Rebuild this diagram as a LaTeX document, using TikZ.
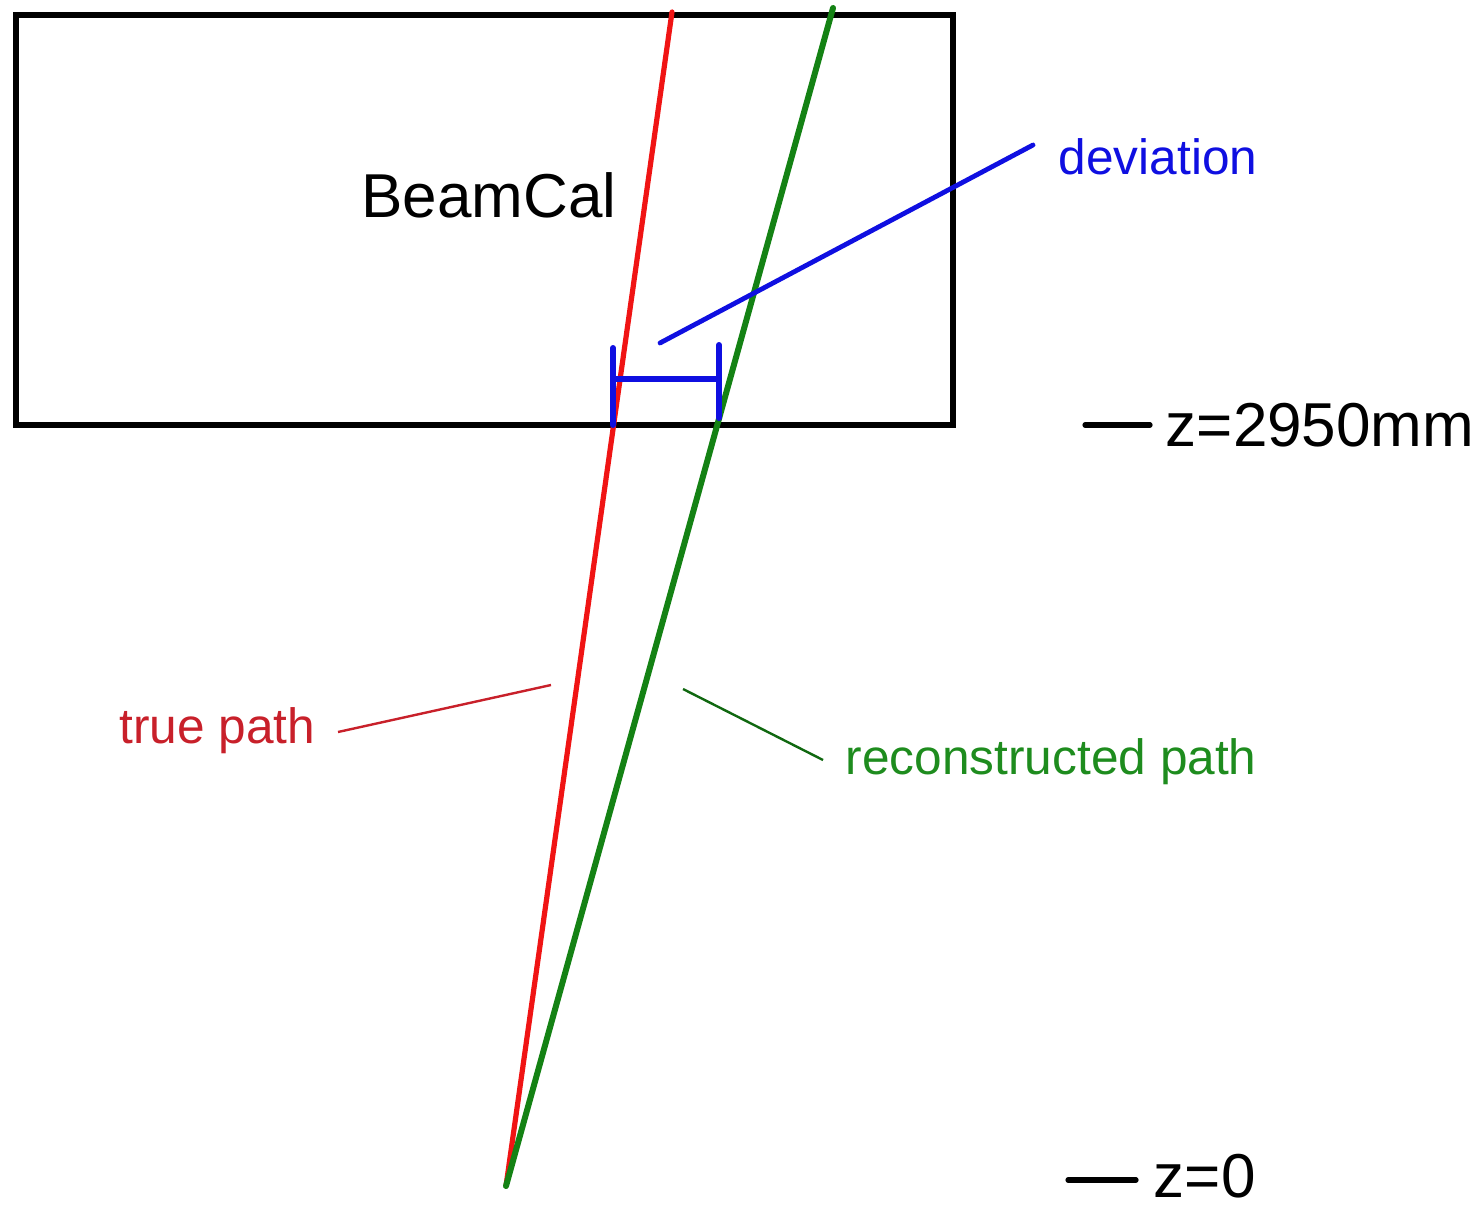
\documentclass[tikz,border=0pt]{standalone}
\usepackage{fontspec}
\setmainfont{Liberation Sans}
\usepackage{xcolor}
\usetikzlibrary{positioning}

\definecolor{truered}{RGB}{240,20,20}
\definecolor{truetext}{RGB}{200,32,42}
\definecolor{recogreen}{RGB}{20,130,20}
\definecolor{recotext}{RGB}{30,140,30}
\definecolor{devblue}{RGB}{15,15,225}

\begin{document}
\begin{tikzpicture}[x=0.25pt,y=-0.25pt,
    biglbl/.style={font=\fontsize{15.5}{18}\selectfont,inner sep=0pt},
    smalllbl/.style={font=\fontsize{12.4}{15}\selectfont,inner sep=0pt},
    leader/.style={line width=0.6pt}]
  \useasboundingbox (0,0) rectangle (1484,1208);
  % BeamCal box
  \draw[line width=1.5pt] (16,15) rectangle (953,425);
  \node[biglbl] (beamcal) at (489,195) {BeamCal};
  % true and reconstructed paths from the vertex
  \coordinate (vtx) at (506,1186);
  \coordinate (truetop) at (672,12);
  \coordinate (recotop) at (833,8);
  \draw[line width=1.3pt,truered,line cap=round] (vtx) -- (truetop);
  \draw[line width=1.5pt,recogreen,line cap=round] (vtx) -- (recotop);
  % deviation bracket at the front face
  \coordinate (devl) at (613,379);
  \coordinate (devr) at (719,379);
  \draw[line width=1.5pt,devblue,line cap=round] (613,348) -- (613,425);
  \draw[line width=1.5pt,devblue,line cap=round] (719,345) -- (719,418);
  \draw[line width=1.5pt,devblue] (devl) -- (devr);
  \node[smalllbl,devblue,anchor=west] (devlbl) at (1058,157) {deviation};
  \coordinate (devtip) at (660,343);
  \coordinate (devend) at (1033,145);
  \draw[line width=1.2pt,devblue,line cap=round] (devtip) -- (devend);
  % path labels
  \node[smalllbl,truetext,anchor=east] (truelbl) at (316,731) {true path};
  \coordinate (truea) at (338,732);
  \coordinate (trueb) at (551,685);
  \draw[leader,truetext] (truea) -- (trueb);
  \node[smalllbl,recotext,anchor=west] (recolbl) at (845,762) {reconstructed path};
  \coordinate (recoa) at (683,689);
  \coordinate (recob) at (823,760);
  \draw[leader,recogreen!80!black] (recoa) -- (recob);
  % z markers
  \coordinate (zfa) at (1085,425);
  \coordinate (zfb) at (1150,425);
  \draw[line width=1.3pt,line cap=round] (zfa) -- (zfb);
  \node[biglbl,right=3.75pt of zfb] (zface) {z=2950mm};
  \coordinate (zoa) at (1068,1180);
  \coordinate (zob) at (1136,1180);
  \draw[line width=1.3pt,line cap=round] (zoa) -- (zob);
  \node[biglbl,right=4.25pt of zob,yshift=1pt] (zorig) {z=0};
\end{tikzpicture}
\end{document}
